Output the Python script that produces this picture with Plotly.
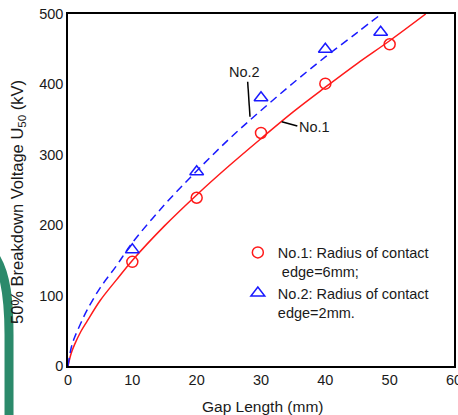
import plotly.graph_objects as go

# ---- data ----
gap_no1 = [10, 20, 30, 40, 50]
u50_no1 = [148, 239, 331, 401, 457]
gap_no2 = [10, 20, 30, 40, 48.6]
u50_no2 = [165, 276, 381, 450, 474]

# fitted curves
fit1_x = [0, 0.5, 1, 2, 3, 5, 7.5, 10, 15, 20, 25, 30, 35, 40, 45, 50, 55.6]
fit1_y = [0, 18, 30, 49, 64, 93, 122, 150, 199, 243, 284, 323, 361, 396, 430, 462, 500]
fit2_x = [0, 0.5, 1, 2, 3, 5, 7.5, 10, 15, 20, 25, 30, 35, 40, 45, 48.7]
fit2_y = [0, 26, 40, 61, 80, 111, 142, 175, 229, 277, 322, 363, 402, 439, 474, 500]

x_ticks = [0, 10, 20, 30, 40, 50, 60]
y_ticks = [0, 100, 200, 300, 400, 500]

RED = "#ff1a1a"
BLUE = "#1a1aff"
FONT = "Liberation Sans, Arial, sans-serif"
TXT = "#1a1a1a"

W, H = 458, 415
ML, MR, MT, MB = 68, 4, 14, 49


def px2paper(px, py):
    return (px - ML) / (W - ML - MR), (H - MB - py) / (H - MT - MB)


fig = go.Figure()
fig.add_trace(go.Scatter(x=fit1_x, y=fit1_y, mode="lines", line=dict(color=RED, width=1.5, shape="spline"),
                         showlegend=False, hoverinfo="skip"))
fig.add_trace(go.Scatter(x=fit2_x, y=fit2_y, mode="lines",
                         line=dict(color=BLUE, width=1.5, dash="8px,5px", shape="spline"),
                         showlegend=False, hoverinfo="skip"))
fig.add_trace(go.Scatter(x=gap_no1, y=u50_no1, mode="markers", name="No.1: Radius of contact<br> edge=6mm;",
                         marker=dict(symbol="circle-open", size=11, color=RED, line=dict(width=1.5, color=RED))))
fig.add_trace(go.Scatter(x=gap_no2, y=u50_no2, mode="markers", name="No.2: Radius of contact<br>edge=2mm.",
                         marker=dict(symbol="triangle-up-open", size=12, color=BLUE, line=dict(width=1.5, color=BLUE))))

# green decorative arc at the left edge of the screenshot
pts = [(-4, 258), (6, 275), (9, 300), (9, 335), (9, 420)]
p = [px2paper(*q) for q in pts]
path = (f"M {p[0][0]:.4f},{p[0][1]:.4f} C {p[1][0]:.4f},{p[1][1]:.4f} {p[2][0]:.4f},{p[2][1]:.4f} "
        f"{p[3][0]:.4f},{p[3][1]:.4f} L {p[4][0]:.4f},{p[4][1]:.4f}")
fig.add_shape(type="path", path=path, xref="paper", yref="paper", layer="below",
              line=dict(color="#2b8a6b", width=9))

# callout labels
fig.add_annotation(x=27.36, y=417.6, text="No.2", showarrow=False, font=dict(size=14.5, color=TXT, family=FONT))
fig.add_shape(type="line", x0=27.93, y0=403.8, x1=28.29, y1=354.1, line=dict(color="black", width=1.5))
fig.add_annotation(x=35.6, y=339.5, text="No.1", showarrow=False, xanchor="left",
                   font=dict(size=14.5, color=TXT, family=FONT))
fig.add_shape(type="line", x0=33.22, y0=347.0, x1=35.65, y1=340.9, line=dict(color="black", width=1.5))

# axis titles
tx, ty = px2paper(18, 202)
fig.add_annotation(x=tx, y=ty, xref="paper", yref="paper", text="50% Breakdown Voltage U<sub>50</sub> (kV)",
                   textangle=-90, showarrow=False, xanchor="center", yanchor="middle",
                   font=dict(size=16.5, color=TXT, family=FONT))
gx, gy = px2paper(262.5, 406.7)
fig.add_annotation(x=gx, y=gy, xref="paper", yref="paper", text="Gap Length (mm)",
                   showarrow=False, xanchor="center", yanchor="middle",
                   font=dict(size=15.5, color=TXT, family=FONT))

fig.update_layout(
    width=W, height=H,
    margin=dict(l=ML, r=MR, t=MT, b=MB, autoexpand=False),
    paper_bgcolor="white", plot_bgcolor="white",
    font=dict(family=FONT, size=14.5, color=TXT),
    legend=dict(x=0.440, y=0.368, xanchor="left", yanchor="top", valign="top",
                bgcolor="rgba(0,0,0,0)", font=dict(size=14.5, color=TXT, family=FONT)),
    xaxis=dict(range=[0, 60], tickvals=x_ticks, showgrid=False, zeroline=False, showline=True,
               linecolor="black", linewidth=1.5, mirror=True, ticks="", ticklabeloverflow="allow",
               tickfont=dict(size=14.5), automargin=False),
    yaxis=dict(range=[0, 500], tickvals=y_ticks, showgrid=False, zeroline=False, showline=True,
               linecolor="black", linewidth=1.5, mirror=True, ticks="", tickfont=dict(size=14.5),
               automargin=False),
)

fig.write_html("out.html")
